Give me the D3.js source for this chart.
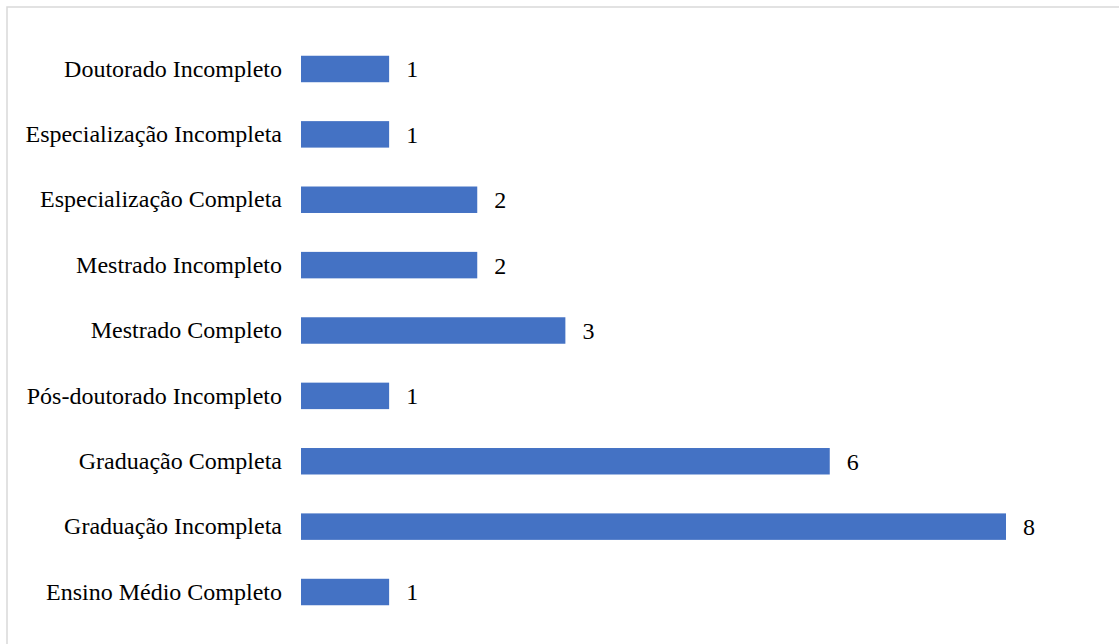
<!DOCTYPE html>
<html>
<head>
<meta charset="utf-8">
<script src="https://cdn.jsdelivr.net/npm/d3@7"></script>
<style>
html,body{margin:0;padding:0;background:#fff;}
svg{display:block;}
</style>
</head>
<body>
<svg id="chart" width="1119" height="644"></svg>
<script>
const categories = [
  "Doutorado Incompleto",
  "Especialização Incompleta",
  "Especialização Completa",
  "Mestrado Incompleto",
  "Mestrado Completo",
  "Pós-doutorado Incompleto",
  "Graduação Completa",
  "Graduação Incompleta",
  "Ensino Médio Completo"
];
const values = [1, 1, 2, 2, 3, 1, 6, 8, 1];

const svg = d3.select("#chart");
const W = 1119, H = 644;

// chart border
svg.append("rect")
  .attr("x", 7).attr("y", 7)
  .attr("width", W + 10).attr("height", H + 10)
  .attr("fill", "#fff")
  .attr("stroke", "#D9D9D9").attr("stroke-width", 1.5);

const x0 = 301;
const x = d3.scaleLinear().domain([0, 8]).range([x0, 1006]);
const y = d3.scaleBand().domain(categories).range([36.3, 624.7]).paddingInner(0.595).paddingOuter(0.2975);

const font = "Liberation Serif, Times New Roman, serif";
const fs = 24;

svg.append("g").selectAll("rect")
  .data(categories)
  .join("rect")
  .attr("x", x(0))
  .attr("y", d => y(d))
  .attr("width", (d, i) => x(values[i]) - x(0))
  .attr("height", y.bandwidth())
  .attr("fill", "#4472C4");

// category axis
const yAxis = d3.axisLeft(y).tickSize(0).tickPadding(19);
const ga = svg.append("g").attr("transform", `translate(${x0},0)`).call(yAxis);
ga.select(".domain").remove();
ga.attr("font-family", null).attr("font-size", null);
ga.selectAll("text")
  .style("font-family", font)
  .style("font-size", fs + "px")
  .attr("fill", "#000");

// value labels
svg.append("g").selectAll("text")
  .data(categories)
  .join("text")
  .attr("x", (d, i) => x(values[i]) + 17)
  .attr("y", d => y(d) + y.bandwidth() / 2)
  .attr("dy", "0.35em")
  .style("font-family", font)
  .style("font-size", fs + "px")
  .attr("fill", "#000")
  .text((d, i) => values[i]);
</script>
</body>
</html>
